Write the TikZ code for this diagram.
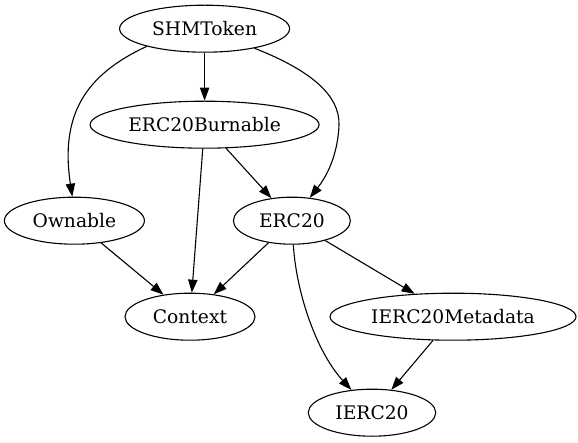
\documentclass[tikz,border=0pt]{standalone}
\usepackage{fontspec}
\setmainfont{DejaVu Serif}
\usetikzlibrary{shapes.geometric,arrows.meta}
\begin{document}
\begin{tikzpicture}[x=1pt,y=-1pt,
  cls/.style={draw, ellipse, line width=1.1pt, inner sep=0pt, minimum height=47pt,
    font=\fontsize{18.67}{22}\selectfont},
  arr/.style={line width=1.1pt, -{Triangle[length=13pt,width=9.3pt]}}]
\useasboundingbox (0,0) rectangle (578,443);
\node[cls, minimum width=170pt] (shm) at (204.6,28.7) {SHMToken};
\node[cls, minimum width=229pt] (burn) at (204.6,124.7) {ERC20Burnable};
\node[cls, minimum width=140pt] (own) at (74.4,220.7) {Ownable};
\node[cls, minimum width=117pt] (erc) at (291.9,220.7) {ERC20};
\node[cls, minimum width=130pt] (ctx) at (190,316.7) {Context};
\node[cls, minimum width=246pt] (meta) at (453,316.7) {IERC20Metadata};
\node[cls, minimum width=127.5pt] (ierc) at (372,412.7) {IERC20};
\draw[arr] (shm.197) .. controls (85,75) and (60,115) .. (own.95);
\draw[arr] (shm) -- (burn);
\draw[arr] (shm) .. controls (310,70) and (340,95) .. (339,125) .. controls (338,150) and (330,172) .. (erc);
\draw[arr] (burn) -- (erc);
\draw[arr] (burn) -- (ctx);
\draw[arr] (own) -- (ctx);
\draw[arr] (erc) -- (ctx);
\draw[arr] (erc) -- (meta);
\draw[arr] (meta) -- (ierc);
\draw[arr] (erc) .. controls (296,290) and (315,350) .. (ierc);
\end{tikzpicture}
\end{document}
